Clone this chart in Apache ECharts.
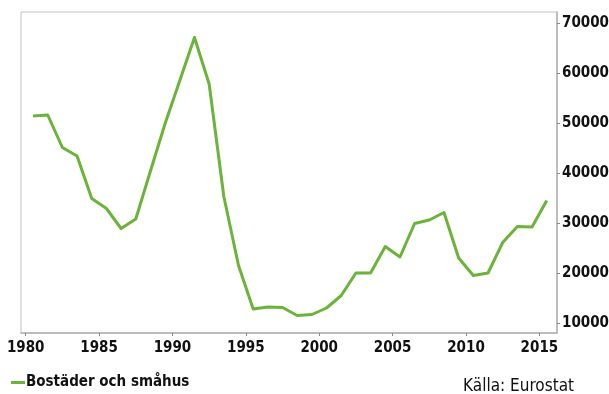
<!DOCTYPE html>
<html>
<head>
<meta charset="utf-8">
<script src="https://cdn.jsdelivr.net/npm/echarts@6/dist/echarts.min.js"></script>
<style>
  html, body { margin: 0; padding: 0; background: #fff; }
  #chart { width: 609px; height: 394px; }
</style>
</head>
<body>
<div id="chart"></div>
<script>
// Completed dwellings per year (Eurostat)
const years = [
  1980, 1981, 1982, 1983, 1984, 1985, 1986, 1987, 1988, 1989,
  1990, 1991, 1992, 1993, 1994, 1995, 1996, 1997, 1998, 1999,
  2000, 2001, 2002, 2003, 2004, 2005, 2006, 2007, 2008, 2009,
  2010, 2011, 2012, 2013, 2014, 2015
];
const dwellings = [
  51400, 51600, 45100, 43400, 34900, 32900, 28900, 30800, 40400, 49900,
  58500, 67100, 57800, 35300, 21500, 12800, 13200, 13100, 11500, 11700,
  13000, 15500, 20000, 20000, 25300, 23200, 29900, 30600, 32100, 23000,
  19500, 20000, 26100, 29300, 29200, 34500
];
const yearTicks = [1980, 1985, 1990, 1995, 2000, 2005, 2010, 2015];
const valueTicks = [10000, 20000, 30000, 40000, 50000, 60000, 70000];
const seriesName = 'Bostäder och småhus';
const sourceText = 'Källa: Eurostat';

const FONT = '"Liberation Sans Narrow", "DejaVu Sans Condensed", "Roboto Condensed", sans-serif';
const GREEN = '#6cb33a';

// each yearly value sits in the middle of its year
const points = years.map((y, i) => [y + 0.5, dwellings[i]]);

const chart = echarts.init(document.getElementById('chart'), null, { renderer: 'canvas' });
chart.setOption({
  animation: false,
  backgroundColor: '#fff',
  grid: {
    left: 21, right: 52, top: 12, bottom: 61,
    outerBoundsMode: 'none',
    containLabel: false,
    show: true, borderColor: '#c4c4c4', borderWidth: 1, backgroundColor: 'transparent'
  },
  title: {
    text: sourceText,
    right: 30, bottom: -6,
    textStyle: { fontFamily: FONT, fontWeight: 'normal', fontSize: 17, color: '#111' }
  },
  legend: {
    left: 6, top: 370,
    icon: 'rect', itemWidth: 14, itemHeight: 3, itemGap: 0,
    textStyle: { fontFamily: FONT, fontWeight: 'bold', fontSize: 15, color: '#111', padding: [0, 0, 0, -4] },
    data: [seriesName]
  },
  xAxis: {
    type: 'value',
    min: 1979.68, max: 2016.2,
    axisLine: { show: true, lineStyle: { color: '#b0b0b0', width: 1.5 } },
    axisTick: { show: true, customValues: yearTicks, length: 3, lineStyle: { color: '#888' } },
    splitLine: { show: false },
    axisLabel: {
      customValues: yearTicks, margin: 8,
      fontFamily: FONT, fontWeight: 'bold', fontSize: 15, color: '#111',
      formatter: v => String(v)
    }
  },
  yAxis: {
    type: 'value',
    position: 'right',
    min: 8000, max: 72200,
    axisLine: { show: true, lineStyle: { color: '#b0b0b0', width: 1.5 } },
    axisTick: { show: true, customValues: valueTicks, length: 3, lineStyle: { color: '#888' } },
    splitLine: { show: false },
    axisLabel: {
      customValues: valueTicks, margin: 5,
      fontFamily: FONT, fontWeight: 'bold', fontSize: 15, color: '#111',
      formatter: v => String(v)
    }
  },
  series: [{
    name: seriesName,
    type: 'line',
    data: points,
    showSymbol: false,
    symbol: 'none',
    lineStyle: { color: GREEN, width: 3, join: 'round' },
    itemStyle: { color: GREEN }
  }]
});
</script>
</body>
</html>
